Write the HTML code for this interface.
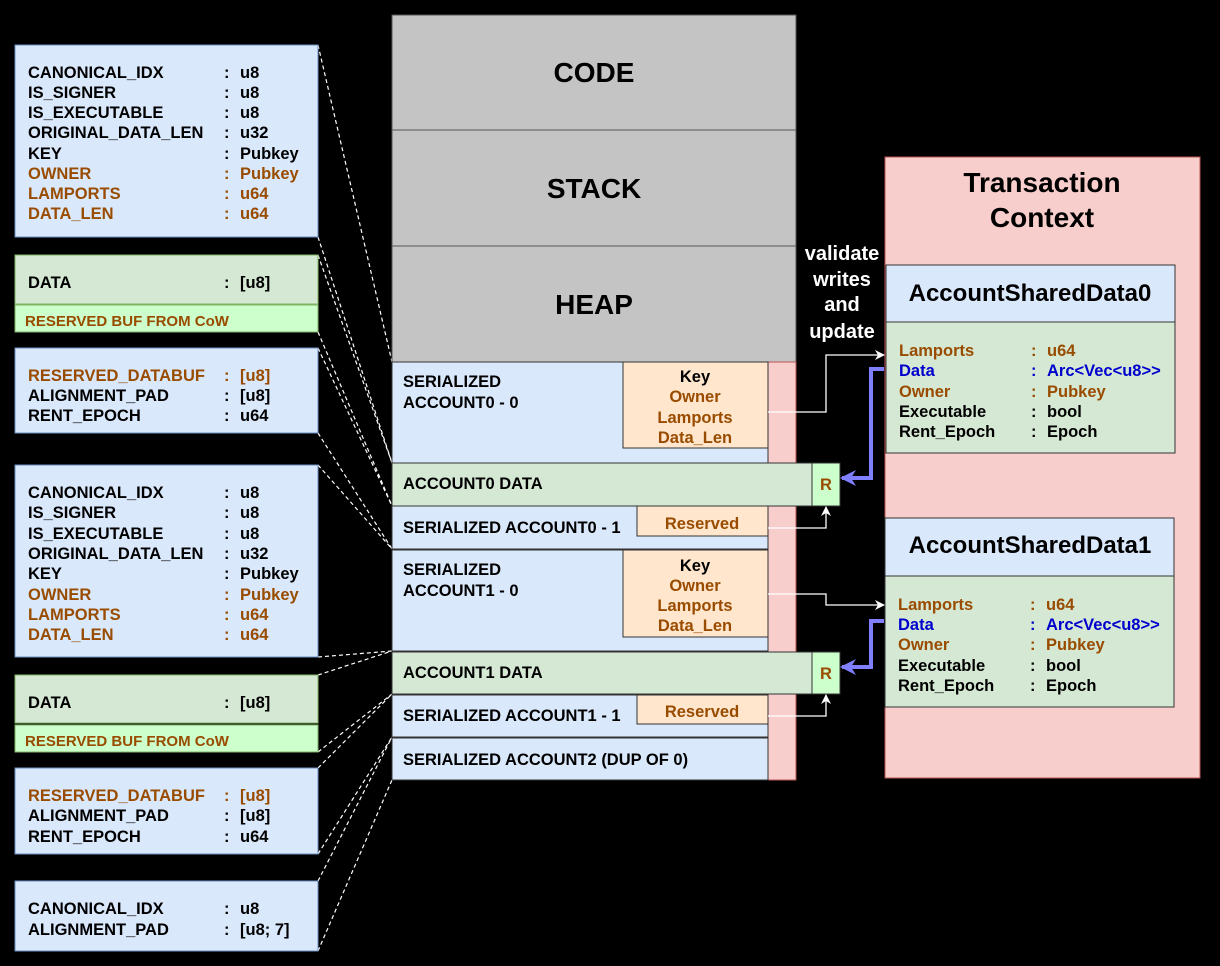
<!DOCTYPE html>
<html><head><meta charset="utf-8"><style>
html,body{margin:0;padding:0;background:#000;}
svg{display:block;font-family:"Liberation Sans",Arial,sans-serif;font-weight:bold;}
</style></head><body>
<svg width="1220" height="966" viewBox="0 0 1220 966" xmlns="http://www.w3.org/2000/svg">
<defs>
<marker id="wa" markerWidth="10" markerHeight="10" refX="9" refY="5" orient="auto" markerUnits="userSpaceOnUse"><path d="M0,0 L10,5 L0,10 L3,5 Z" fill="#fff"/></marker>
<marker id="ba" markerWidth="16" markerHeight="16" refX="14" refY="8" orient="auto" markerUnits="userSpaceOnUse"><path d="M0,0 L16,8 L0,16 L5,8 Z" fill="#7f7fff"/></marker>
</defs>
<rect width="1220" height="966" fill="#000"/>

<g stroke="#fff" stroke-width="1.2" stroke-dasharray="4,3" fill="none">
<line x1="318" y1="45" x2="392" y2="362"/><line x1="318" y1="237" x2="392" y2="463"/>
<line x1="318" y1="255" x2="392" y2="463"/><line x1="318" y1="332" x2="392" y2="506"/>
<line x1="318" y1="348" x2="392" y2="506"/><line x1="318" y1="433" x2="392" y2="549"/>
<line x1="318" y1="465" x2="392" y2="549"/><line x1="318" y1="657" x2="392" y2="651"/>
<line x1="318" y1="675" x2="392" y2="651"/><line x1="318" y1="752" x2="392" y2="694"/>
<line x1="318" y1="768" x2="392" y2="694"/><line x1="318" y1="854" x2="392" y2="737"/>
<line x1="318" y1="881" x2="392" y2="737"/><line x1="318" y1="951" x2="392" y2="780"/>
</g>

<g stroke="#6c8ebf" stroke-width="1">
<rect x="15" y="45" width="303" height="192" fill="#dae8fc"/>
<rect x="15" y="255" width="303" height="49" fill="#d5e8d4" stroke="#82b366"/>
<rect x="15" y="305" width="303" height="27" fill="#ccffcc" stroke="#82b366"/>
<rect x="15" y="348" width="303" height="85" fill="#dae8fc"/>
<rect x="15" y="465" width="303" height="192" fill="#dae8fc"/>
<rect x="15" y="675" width="303" height="48" fill="#d5e8d4" stroke="#82b366"/>
<rect x="15" y="725" width="303" height="27" fill="#ccffcc" stroke="#82b366"/>
<rect x="15" y="768" width="303" height="86" fill="#dae8fc"/>
<rect x="15" y="881" width="303" height="70" fill="#dae8fc"/>
</g>
<g font-size="16.5" fill="#000">
<text x="28" y="78">CANONICAL_IDX</text><text x="224" y="78">:</text><text x="240" y="78">u8</text>
<text x="28" y="98">IS_SIGNER</text><text x="224" y="98">:</text><text x="240" y="98">u8</text>
<text x="28" y="118">IS_EXECUTABLE</text><text x="224" y="118">:</text><text x="240" y="118">u8</text>
<text x="28" y="138">ORIGINAL_DATA_LEN</text><text x="224" y="138">:</text><text x="240" y="138">u32</text>
<text x="28" y="159">KEY</text><text x="224" y="159">:</text><text x="240" y="159">Pubkey</text>
<g fill="#994c00"><text x="28" y="179">OWNER</text><text x="224" y="179">:</text><text x="240" y="179">Pubkey</text>
<text x="28" y="199">LAMPORTS</text><text x="224" y="199">:</text><text x="240" y="199">u64</text>
<text x="28" y="219">DATA_LEN</text><text x="224" y="219">:</text><text x="240" y="219">u64</text></g>
<text x="28" y="288">DATA</text><text x="224" y="288">:</text><text x="240" y="288">[u8]</text>
<text x="25" y="326" font-size="15" fill="#994c00">RESERVED BUF FROM CoW</text>
<g fill="#994c00"><text x="28" y="381">RESERVED_DATABUF</text><text x="224" y="381">:</text><text x="240" y="381">[u8]</text></g>
<text x="28" y="401">ALIGNMENT_PAD</text><text x="224" y="401">:</text><text x="240" y="401">[u8]</text>
<text x="28" y="421">RENT_EPOCH</text><text x="224" y="421">:</text><text x="240" y="421">u64</text>
<text x="28" y="498">CANONICAL_IDX</text><text x="224" y="498">:</text><text x="240" y="498">u8</text>
<text x="28" y="518">IS_SIGNER</text><text x="224" y="518">:</text><text x="240" y="518">u8</text>
<text x="28" y="539">IS_EXECUTABLE</text><text x="224" y="539">:</text><text x="240" y="539">u8</text>
<text x="28" y="559">ORIGINAL_DATA_LEN</text><text x="224" y="559">:</text><text x="240" y="559">u32</text>
<text x="28" y="579">KEY</text><text x="224" y="579">:</text><text x="240" y="579">Pubkey</text>
<g fill="#994c00"><text x="28" y="600">OWNER</text><text x="224" y="600">:</text><text x="240" y="600">Pubkey</text>
<text x="28" y="620">LAMPORTS</text><text x="224" y="620">:</text><text x="240" y="620">u64</text>
<text x="28" y="640">DATA_LEN</text><text x="224" y="640">:</text><text x="240" y="640">u64</text></g>
<text x="28" y="708">DATA</text><text x="224" y="708">:</text><text x="240" y="708">[u8]</text>
<text x="25" y="746" font-size="15" fill="#994c00">RESERVED BUF FROM CoW</text>
<g fill="#994c00"><text x="28" y="801">RESERVED_DATABUF</text><text x="224" y="801">:</text><text x="240" y="801">[u8]</text></g>
<text x="28" y="821">ALIGNMENT_PAD</text><text x="224" y="821">:</text><text x="240" y="821">[u8]</text>
<text x="28" y="842">RENT_EPOCH</text><text x="224" y="842">:</text><text x="240" y="842">u64</text>
<text x="28" y="914">CANONICAL_IDX</text><text x="224" y="914">:</text><text x="240" y="914">u8</text>
<text x="28" y="935">ALIGNMENT_PAD</text><text x="224" y="935">:</text><text x="240" y="935">[u8; 7]</text>
</g>

<g stroke="#555" stroke-width="1">
<rect x="392" y="15" width="404" height="115" fill="#c4c4c4"/>
<rect x="392" y="130" width="404" height="116" fill="#c4c4c4"/>
<rect x="392" y="246" width="404" height="116" fill="#c4c4c4"/>
</g>
<g font-size="28" text-anchor="middle"><text x="594" y="82">CODE</text><text x="594" y="198">STACK</text><text x="594" y="314">HEAP</text></g>
<rect x="768" y="362" width="28" height="418" fill="#f8cecc" stroke="#b85450"/>
<g stroke="#333" stroke-width="1">
<rect x="392" y="362" width="376" height="101" fill="#dae8fc"/>
<rect x="623" y="362" width="145" height="86" fill="#ffe6cc"/>
<rect x="392" y="463" width="420" height="43" fill="#d5e8d4"/>
<rect x="812" y="463" width="28" height="43" fill="#ccffcc"/>
<rect x="392" y="506" width="376" height="43" fill="#dae8fc"/>
<rect x="637" y="506" width="131" height="30" fill="#ffe6cc"/>
<rect x="392" y="550" width="376" height="101" fill="#dae8fc"/>
<rect x="623" y="550" width="145" height="87" fill="#ffe6cc"/>
<rect x="392" y="652" width="420" height="42" fill="#d5e8d4"/>
<rect x="812" y="652" width="28" height="42" fill="#ccffcc"/>
<rect x="392" y="695" width="376" height="42" fill="#dae8fc"/>
<rect x="637" y="695" width="131" height="29" fill="#ffe6cc"/>
<rect x="392" y="738" width="376" height="42" fill="#dae8fc"/>
</g>
<g font-size="16.5">
<text x="403" y="387">SERIALIZED</text><text x="403" y="408">ACCOUNT0 - 0</text>
<text x="403" y="489">ACCOUNT0 DATA</text>
<text x="403" y="533">SERIALIZED ACCOUNT0 - 1</text>
<text x="403" y="575">SERIALIZED</text><text x="403" y="596">ACCOUNT1 - 0</text>
<text x="403" y="678">ACCOUNT1 DATA</text>
<text x="403" y="721">SERIALIZED ACCOUNT1 - 1</text>
<text x="403" y="765">SERIALIZED ACCOUNT2 (DUP OF 0)</text>
<g text-anchor="middle">
<text x="695" y="382">Key</text>
<g fill="#994c00"><text x="695" y="402">Owner</text><text x="695" y="423">Lamports</text><text x="695" y="443">Data_Len</text></g>
<text x="695" y="571">Key</text>
<g fill="#994c00"><text x="695" y="591">Owner</text><text x="695" y="611">Lamports</text><text x="695" y="631">Data_Len</text>
<text x="702" y="529">Reserved</text><text x="702" y="717">Reserved</text>
<text x="826" y="490">R</text><text x="826" y="679">R</text></g>
</g>
</g>

<g font-size="20" fill="#fff" text-anchor="middle">
<text x="842" y="260">validate</text><text x="842" y="286">writes</text><text x="842" y="311">and</text><text x="842" y="338">update</text>
</g>

<rect x="885" y="157" width="315" height="621" fill="#f8cecc" stroke="#b85450"/>
<g font-size="28" text-anchor="middle"><text x="1042" y="192">Transaction</text><text x="1042" y="227">Context</text></g>
<g stroke="#333">
<rect x="886" y="265" width="289" height="57" fill="#dae8fc"/>
<rect x="886" y="322" width="289" height="131" fill="#d5e8d4"/>
<rect x="885" y="518" width="289" height="58" fill="#dae8fc"/>
<rect x="885" y="576" width="289" height="131" fill="#d5e8d4"/>
</g>
<g font-size="24" text-anchor="middle"><text x="1030" y="301">AccountSharedData0</text><text x="1030" y="553">AccountSharedData1</text></g>
<g font-size="16.5">
<g fill="#994c00"><text x="899" y="356">Lamports</text><text x="1031" y="356">:</text><text x="1047" y="356">u64</text></g>
<g fill="#0000cc"><text x="899" y="376">Data</text><text x="1031" y="376">:</text><text x="1047" y="376">Arc&lt;Vec&lt;u8&gt;&gt;</text></g>
<g fill="#994c00"><text x="899" y="397">Owner</text><text x="1031" y="397">:</text><text x="1047" y="397">Pubkey</text></g>
<text x="899" y="417">Executable</text><text x="1031" y="417">:</text><text x="1047" y="417">bool</text>
<text x="899" y="437">Rent_Epoch</text><text x="1031" y="437">:</text><text x="1047" y="437">Epoch</text>
<g fill="#994c00"><text x="898" y="610">Lamports</text><text x="1030" y="610">:</text><text x="1046" y="610">u64</text></g>
<g fill="#0000cc"><text x="898" y="630">Data</text><text x="1030" y="630">:</text><text x="1046" y="630">Arc&lt;Vec&lt;u8&gt;&gt;</text></g>
<g fill="#994c00"><text x="898" y="650">Owner</text><text x="1030" y="650">:</text><text x="1046" y="650">Pubkey</text></g>
<text x="898" y="671">Executable</text><text x="1030" y="671">:</text><text x="1046" y="671">bool</text>
<text x="898" y="691">Rent_Epoch</text><text x="1030" y="691">:</text><text x="1046" y="691">Epoch</text>
</g>

<g stroke="#fff" stroke-width="1.3" fill="none">
<polyline points="768,412 826,412 826,355 884,355" marker-end="url(#wa)"/>
<polyline points="768,528 826,528 826,507" marker-end="url(#wa)"/>
<polyline points="768,594 826,594 826,605 884,605" marker-end="url(#wa)"/>
<polyline points="768,716 826,716 826,695" marker-end="url(#wa)"/>
</g>
<g stroke="#7f7fff" stroke-width="4" fill="none">
<polyline points="884,369 871,369 871,478 842,478" marker-end="url(#ba)"/>
<polyline points="884,621 871,621 871,667 842,667" marker-end="url(#ba)"/>
</g>
</svg>
</body></html>
